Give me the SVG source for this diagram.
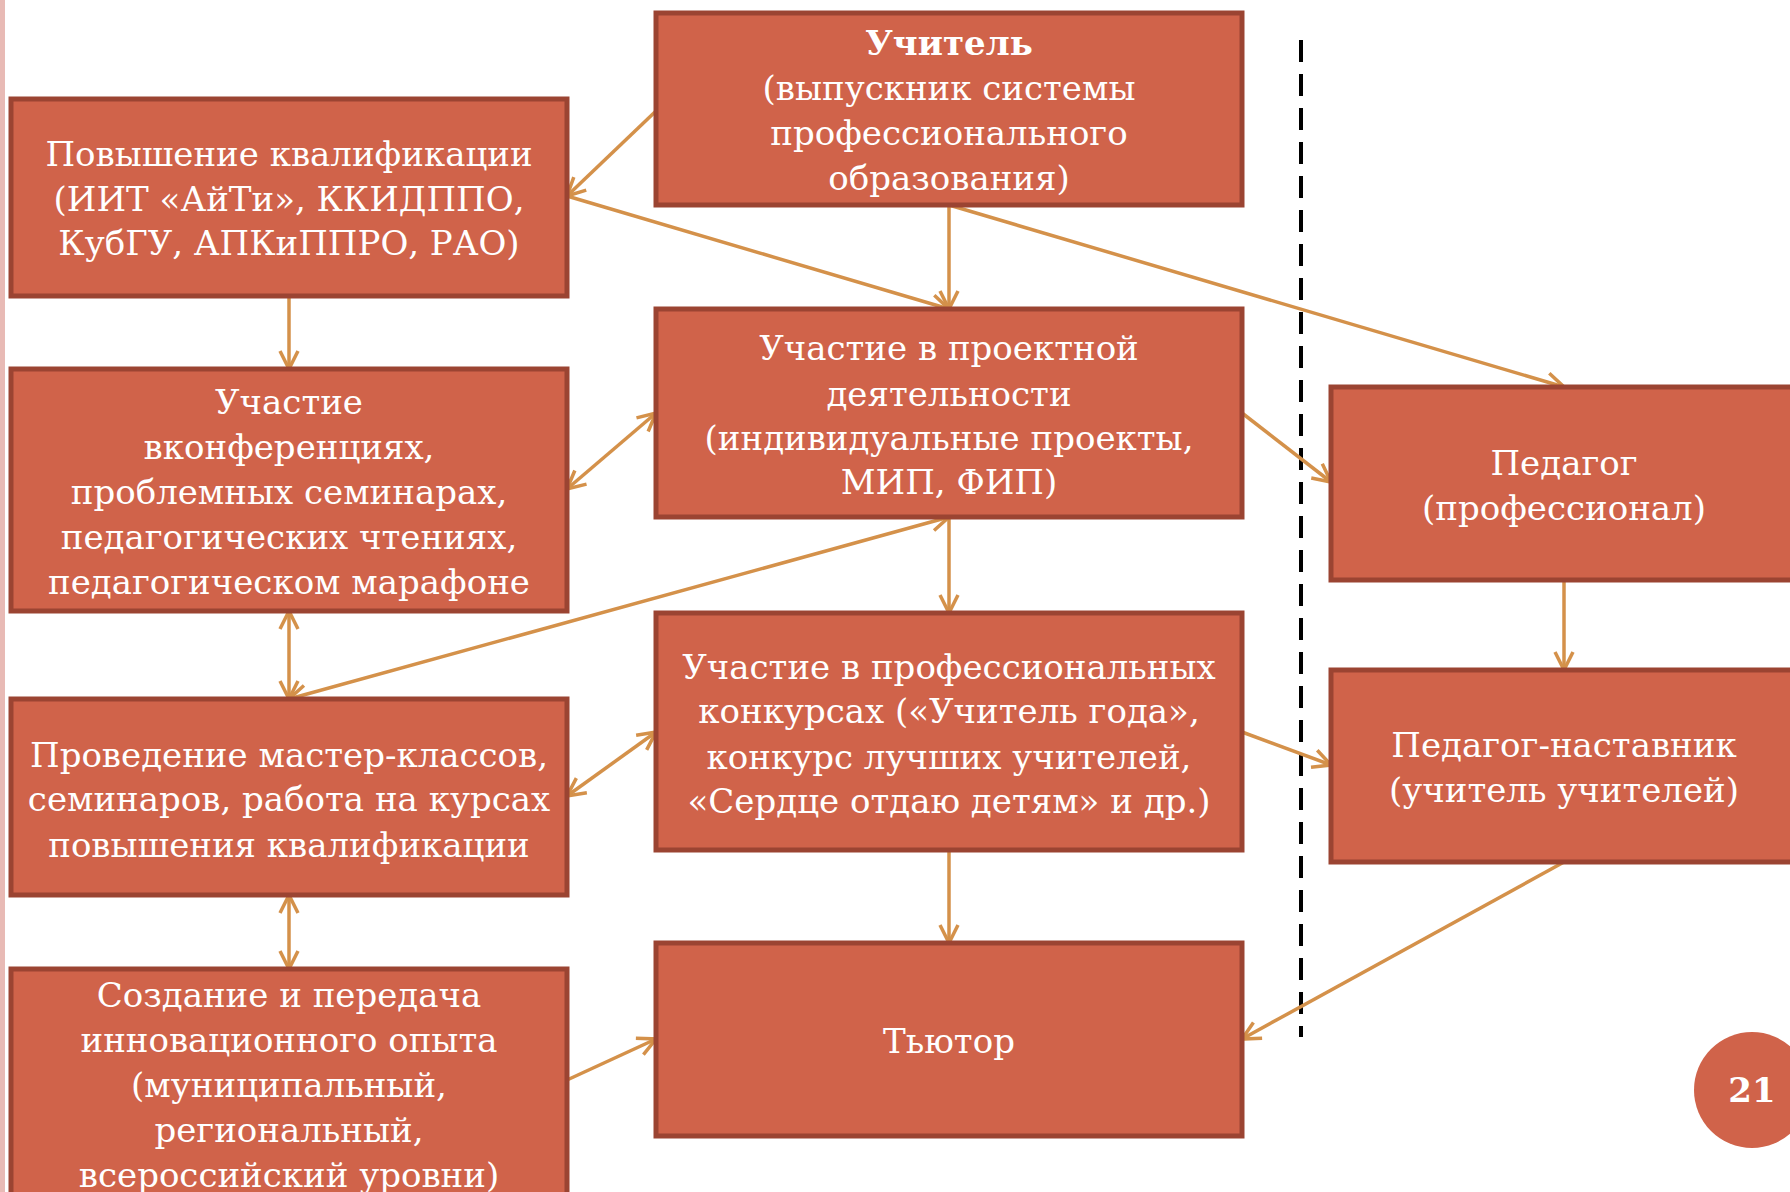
<svg xmlns="http://www.w3.org/2000/svg" width="1790" height="1192" viewBox="0 0 1790 1192">
<style>
.box{fill:#D0634A;stroke:#9B4432;stroke-width:5}
.t{font-family:"DejaVu Serif","Liberation Serif",serif;font-size:34px;fill:#FFFFFF;text-anchor:middle}
.b{font-weight:bold}
.c{fill:none;stroke:#D4914A;stroke-width:3.5}
</style>
<defs>
<marker id="ah" viewBox="0 0 22 22" refX="20" refY="11" markerWidth="22" markerHeight="22" markerUnits="userSpaceOnUse" orient="auto-start-reverse">
<path d="M2,2 L20,11 L2,20" fill="none" stroke="#D4914A" stroke-width="3.5"/>
</marker>
</defs>
<rect x="0" y="0" width="1790" height="1192" fill="#FFFFFF"/>
<rect x="0" y="0" width="5" height="1192" fill="#E8BAB5"/>
<line x1="1301" y1="40" x2="1301" y2="1037" stroke="#000" stroke-width="4" stroke-dasharray="22,12"/>

<g id="connectors">
<line class="c" x1="656" y1="111" x2="567" y2="196" marker-end="url(#ah)"/>
<line class="c" x1="567" y1="196" x2="949" y2="309" marker-end="url(#ah)"/>
<line class="c" x1="949" y1="205" x2="949" y2="309" marker-end="url(#ah)"/>
<line class="c" x1="949" y1="205" x2="1564" y2="387" marker-end="url(#ah)"/>
<line class="c" x1="289" y1="296" x2="289" y2="369" marker-end="url(#ah)"/>
<line class="c" x1="656" y1="413" x2="567" y2="489" marker-start="url(#ah)" marker-end="url(#ah)"/>
<line class="c" x1="949" y1="517" x2="289" y2="699" marker-start="url(#ah)" marker-end="url(#ah)"/>
<line class="c" x1="949" y1="517" x2="949" y2="613" marker-end="url(#ah)"/>
<line class="c" x1="1242" y1="413" x2="1331" y2="482" marker-end="url(#ah)"/>
<line class="c" x1="289" y1="611" x2="289" y2="699" marker-start="url(#ah)" marker-end="url(#ah)"/>
<line class="c" x1="656" y1="732" x2="567" y2="796" marker-start="url(#ah)" marker-end="url(#ah)"/>
<line class="c" x1="1242" y1="732" x2="1331" y2="765" marker-end="url(#ah)"/>
<line class="c" x1="1564" y1="580" x2="1564" y2="670" marker-end="url(#ah)"/>
<line class="c" x1="289" y1="895" x2="289" y2="969" marker-start="url(#ah)" marker-end="url(#ah)"/>
<line class="c" x1="949" y1="850" x2="949" y2="943" marker-end="url(#ah)"/>
<line class="c" x1="567" y1="1080" x2="656" y2="1039" marker-end="url(#ah)"/>
<line class="c" x1="1564" y1="862" x2="1242" y2="1039" marker-end="url(#ah)"/>
</g>

<g id="n-uchitel">
<rect class="box" x="656" y="13" width="586" height="192"/>
<text class="t b" x="949" y="55">Учитель</text>
<text class="t" x="949" y="100">(выпускник системы</text>
<text class="t" x="949" y="145">профессионального</text>
<text class="t" x="949" y="190">образования)</text>
</g>
<g id="n-povyshenie">
<rect class="box" x="11" y="99" width="556" height="197"/>
<text class="t" x="289" y="166">Повышение квалификации</text>
<text class="t" x="289" y="211">(ИИТ «АйТи», ККИДППО,</text>
<text class="t" x="289" y="255">КубГУ, АПКиППРО, РАО)</text>
</g>
<g id="n-konf">
<rect class="box" x="11" y="369" width="556" height="242"/>
<text class="t" x="289" y="414">Участие</text>
<text class="t" x="289" y="459">вконференциях,</text>
<text class="t" x="289" y="504">проблемных семинарах,</text>
<text class="t" x="289" y="549">педагогических чтениях,</text>
<text class="t" x="289" y="594">педагогическом марафоне</text>
</g>
<g id="n-provedenie">
<rect class="box" x="11" y="699" width="556" height="196"/>
<text class="t" x="289" y="767">Проведение мастер-классов,</text>
<text class="t" x="289" y="811">семинаров, работа на курсах</text>
<text class="t" x="289" y="857">повышения квалификации</text>
</g>
<g id="n-sozdanie">
<rect class="box" x="11" y="969" width="556" height="240"/>
<text class="t" x="289" y="1007">Создание и передача</text>
<text class="t" x="289" y="1052">инновационного опыта</text>
<text class="t" x="289" y="1097">(муниципальный,</text>
<text class="t" x="289" y="1142">региональный,</text>
<text class="t" x="289" y="1187">всероссийский уровни)</text>
</g>
<g id="n-proekt">
<rect class="box" x="656" y="309" width="586" height="208"/>
<text class="t" x="949" y="360">Участие в проектной</text>
<text class="t" x="949" y="406">деятельности</text>
<text class="t" x="949" y="450">(индивидуальные проекты,</text>
<text class="t" x="949" y="494">МИП, ФИП)</text>
</g>
<g id="n-konkurs">
<rect class="box" x="656" y="613" width="586" height="237"/>
<text class="t" x="949" y="679">Участие в профессиональных</text>
<text class="t" x="949" y="723">конкурсах («Учитель года»,</text>
<text class="t" x="949" y="769">конкурс лучших учителей,</text>
<text class="t" x="949" y="813">«Сердце отдаю детям» и др.)</text>
</g>
<g id="n-tutor">
<rect class="box" x="656" y="943" width="586" height="193"/>
<text class="t" x="949" y="1053">Тьютор</text>
</g>
<g id="n-pedagog">
<rect class="box" x="1331" y="387" width="470" height="193"/>
<text class="t" x="1564" y="475">Педагог</text>
<text class="t" x="1564" y="520">(профессионал)</text>
</g>
<g id="n-nastavnik">
<rect class="box" x="1331" y="670" width="470" height="192"/>
<text class="t" x="1564" y="757">Педагог-наставник</text>
<text class="t" x="1564" y="802">(учитель учителей)</text>
</g>
<g id="page-num">
<circle cx="1752" cy="1090" r="58" fill="#D0634A"/>
<text x="1752" y="1102" font-family="DejaVu Serif, serif" font-size="34" font-weight="bold" fill="#FFFFFF" text-anchor="middle">21</text>
</g>
</svg>
